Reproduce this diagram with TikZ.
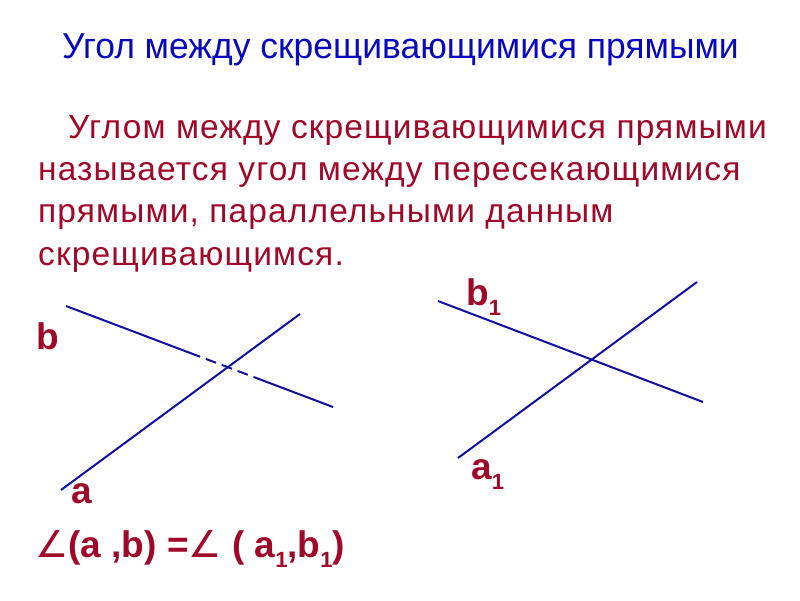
\documentclass[tikz,border=0pt]{standalone}
\usepackage{fontspec}
\setmainfont{Liberation Sans}
\newfontfamily\titlefont[FakeStretch=0.985]{Liberation Sans}
\newfontfamily\bodyfont[LetterSpace=3.4]{Liberation Sans}
\newfontfamily\symfont{DejaVu Sans}
\usetikzlibrary{calc}
\definecolor{titleblue}{RGB}{8,8,190}
\definecolor{textred}{RGB}{160,8,42}
\definecolor{lineblue}{RGB}{16,16,160}
\newcommand\lsub[1]{\raisebox{-10pt}{\fontsize{22}{22}\selectfont #1}}
\tikzset{
  titletext/.style={anchor=base west, inner sep=0pt, text=titleblue, font=\titlefont\fontsize{36}{40}\selectfont},
  bodytext/.style={anchor=base west, inner sep=0pt, text=textred, font=\bodyfont\fontsize{33.5}{38}\selectfont},
  lbl/.style={anchor=base west, inner sep=0pt, text=textred, font=\bfseries\fontsize{37}{42}\selectfont},
  geoline/.style={draw=lineblue, line width=2pt},
  dashline/.style={geoline, dash pattern=on 11pt off 6pt}
}
\begin{document}
\begin{tikzpicture}[x=1pt,y=-1pt]
\useasboundingbox (0,0) rectangle (800,600);
\fill[white] (0,0) rectangle (800,600);
% title
\node[titletext] (title) at (62,58) {Угол между скрещивающимися прямыми};
% definition
\node[bodytext] (l1) at (68,138) {Углом между скрещивающимися прямыми};
\node[bodytext] (l2) at (38,180.3) {называется угол между пересекающимися};
\node[bodytext] (l3) at (38,222.6) {прямыми, параллельными данным};
\node[bodytext] (l4) at (38,265) {скрещивающимся.};
% left figure
\coordinate (a0) at (61,490);
\coordinate (a9) at (300,314);
\coordinate (b0) at (66,306);
\coordinate (b9) at (333,407);
\coordinate (bs) at ($(b0)!0.464!(b9)$);
\coordinate (be) at ($(b0)!0.734!(b9)$);
\draw[geoline] (a0) -- (a9);
\draw[geoline] (b0) -- (bs);
\draw[dashline] (bs) -- (be);
\draw[geoline] (be) -- (b9);
\node[lbl] (lb) at (36,349) {b};
\node[lbl] (la) at (71,503) {a};
% right figure
\coordinate (c0) at (458,458);
\coordinate (c9) at (697,282);
\coordinate (d0) at (438,301);
\coordinate (d9) at (703,402);
\draw[geoline] (c0) -- (c9);
\draw[geoline] (d0) -- (d9);
\node[lbl] (lb1) at (466,305) {b\lsub{1}};
\node[lbl] (la1) at (471,479) {a\lsub{1}};
% formula
\node[lbl] (formula) at (35,557) {{\symfont\mdseries ∠}(a ,b) ={\symfont\mdseries ∠} ( a\lsub{1},b\lsub{1})};
\end{tikzpicture}
\end{document}
